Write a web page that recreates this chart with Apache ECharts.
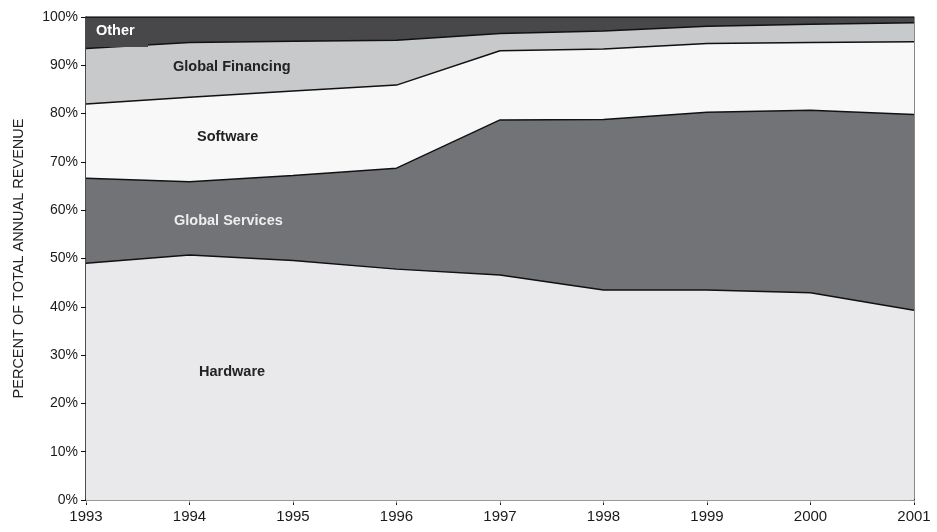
<!DOCTYPE html>
<html>
<head>
<meta charset="utf-8">
<style>
  html, body { margin: 0; padding: 0; background: #ffffff; }
  #chart { width: 937px; height: 532px; }
</style>
<script src="https://cdn.jsdelivr.net/npm/echarts@6/dist/echarts.min.js"></script>
</head>
<body>
<div id="chart"></div>
<script>
// Years on the horizontal axis
const years = ['1993', '1994', '1995', '1996', '1997', '1998', '1999', '2000', '2001'];

// Share of total annual revenue by segment (percent)
const hardware        = [49.0, 50.7, 49.6, 47.8, 46.6, 43.5, 43.5, 42.9, 39.3];
const globalServices  = [17.6, 15.2, 17.6, 20.9, 32.1, 35.3, 36.8, 37.8, 40.5];
const software        = [15.4, 17.5, 17.5, 17.2, 14.3, 14.6, 14.2, 14.0, 15.1];
const globalFinancing = [11.5, 11.3, 10.3,  9.3,  3.6,  3.7,  3.6,  3.8,  3.9];
const other           = [ 6.5,  5.3,  5.0,  4.8,  3.4,  2.9,  1.9,  1.5,  1.2];

const yTicks = [0, 10, 20, 30, 40, 50, 60, 70, 80, 90, 100];

const segments = [
  { name: 'Hardware',         data: hardware,        color: '#e9e9eb' },
  { name: 'Global Services',  data: globalServices,  color: '#727377' },
  { name: 'Software',         data: software,        color: '#f8f8f8' },
  { name: 'Global Financing', data: globalFinancing, color: '#c8c9cb' },
  { name: 'Other',            data: other,           color: '#48484a' }
];

const chart = echarts.init(document.getElementById('chart'), null, { renderer: 'canvas' });

const tickFont = {
  fontFamily: '"Liberation Sans Narrow", "Liberation Sans", Arial, sans-serif',
  fontSize: 15,
  color: '#1a1a1a'
};

const option = {
  backgroundColor: '#ffffff',
  animation: false,
  grid: { left: 86, right: 23, top: 17, bottom: 32, containLabel: false },
  xAxis: [
    {
      type: 'category',
      data: years,
      boundaryGap: false,
      position: 'bottom',
      axisLine: { lineStyle: { color: '#111', width: 2 } },
      axisTick: { show: true, length: 5, lineStyle: { color: '#111', width: 1 } },
      axisLabel: Object.assign({ margin: 9 }, tickFont),
      splitLine: { show: false }
    },
    {
      type: 'category',
      data: years,
      boundaryGap: false,
      position: 'top',
      axisLine: { lineStyle: { color: '#999', width: 1 } },
      axisTick: { show: true, inside: true, length: 3, lineStyle: { color: '#999' } },
      axisLabel: { show: false }
    }
  ],
  yAxis: [
    {
      type: 'value',
      min: 0,
      max: 100,
      interval: 10,
      position: 'left',
      name: 'PERCENT OF TOTAL ANNUAL REVENUE',
      nameLocation: 'middle',
      nameGap: 60,
      nameRotate: 90,
      nameTextStyle: {
        fontFamily: '"Liberation Sans", Arial, sans-serif',
        fontSize: 14.5,
        color: '#222'
      },
      axisLine: { show: true, lineStyle: { color: '#111', width: 1.5 } },
      axisTick: { show: true, length: 5, lineStyle: { color: '#111' } },
      axisLabel: Object.assign({
        margin: 8,
        formatter: function (v) { return yTicks.indexOf(v) >= 0 ? v + '%' : ''; }
      }, tickFont, { fontFamily: '"Liberation Sans", Arial, sans-serif', fontSize: 14 }),
      splitLine: { show: false }
    },
    {
      type: 'value',
      min: 0,
      max: 100,
      interval: 10,
      position: 'right',
      axisLine: { show: true, lineStyle: { color: '#888', width: 1 } },
      axisTick: { show: true, inside: true, length: 3, lineStyle: { color: '#888' } },
      axisLabel: { show: false },
      splitLine: { show: false }
    }
  ],
  series: segments.map(function (s) {
    return {
      name: s.name,
      type: 'line',
      stack: 'revenue',
      data: s.data,
      symbol: 'none',
      smooth: false,
      lineStyle: { color: '#111', width: 1.5 },
      areaStyle: { color: s.color, opacity: 1 },
      z: 2
    };
  }),
  graphic: [
    {
      type: 'rect',
      left: 87, top: 18,
      shape: { width: 61, height: 29 },
      style: { fill: '#48484a' },
      z: 10
    },
    {
      type: 'text', left: 96, top: 23, z: 11,
      style: { text: 'Other', fill: '#ffffff', font: 'bold 14.5px "Liberation Sans", Arial, sans-serif' }
    },
    {
      type: 'text', left: 173, top: 59, z: 11,
      style: { text: 'Global Financing', fill: '#222', font: 'bold 14.5px "Liberation Sans", Arial, sans-serif' }
    },
    {
      type: 'text', left: 197, top: 129, z: 11,
      style: { text: 'Software', fill: '#222', font: 'bold 14.5px "Liberation Sans", Arial, sans-serif' }
    },
    {
      type: 'text', left: 174, top: 213, z: 11,
      style: { text: 'Global Services', fill: '#eeeeee', font: 'bold 14.5px "Liberation Sans", Arial, sans-serif' }
    },
    {
      type: 'text', left: 199, top: 364, z: 11,
      style: { text: 'Hardware', fill: '#222', font: 'bold 14.5px "Liberation Sans", Arial, sans-serif' }
    }
  ]
};

chart.setOption(option);
</script>
</body>
</html>
